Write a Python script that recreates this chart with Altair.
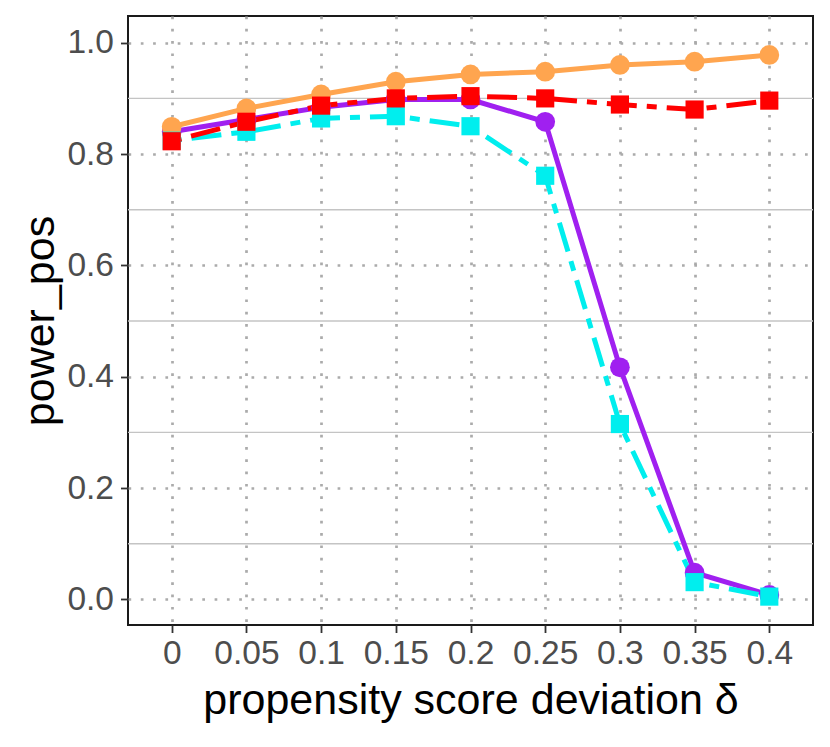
import altair as alt
import pandas as pd

x_labels = ["0", "0.05", "0.1", "0.15", "0.2", "0.25", "0.3", "0.35", "0.4"]
purple_vals = [0.840, 0.862, 0.884, 0.898, 0.898, 0.858, 0.417, 0.048, 0.008]
orange_vals = [0.849, 0.882, 0.907, 0.930, 0.943, 0.948, 0.960, 0.966, 0.978]
cyan_vals = [0.824, 0.840, 0.864, 0.868, 0.850, 0.761, 0.315, 0.031, 0.005]
red_vals = [0.823, 0.858, 0.887, 0.900, 0.904, 0.900, 0.889, 0.880, 0.896]
major_ticks = [0.0, 0.2, 0.4, 0.6, 0.8, 1.0]
minor_ticks = [0.1, 0.3, 0.5, 0.7, 0.9]

series = [
    ("purple", purple_vals, "#A020F0", "circle", None),
    ("orange", orange_vals, "#FFA54F", "circle", None),
    ("cyan", cyan_vals, "#00EEEE", "square", [10, 10, 30, 10]),
    ("red", red_vals, "#FF0000", "square", [10, 10, 30, 10]),
]

rows = []
for name, vals, _, _, _ in series:
    for d, v in zip(x_labels, vals):
        rows.append({"delta": d, "value": v, "series": name})
df = pd.DataFrame(rows)
minor_df = pd.DataFrame({"y": minor_ticks})

FONT = "Liberation Sans"
YDOM = [-0.046, 1.048]

x_enc = alt.X(
    "delta:O",
    sort=x_labels,
    scale=alt.Scale(type="point", padding=0.585),
    axis=alt.Axis(
        title="propensity score deviation δ",
        labelAngle=0,
        grid=True,
        gridDash=[2.7, 9.6],
        gridColor="#ABABAB",
        gridWidth=2.7,
        domain=False,
        tickColor="#333333",
        tickSize=7.5,
        tickWidth=1.8,
        labelFontSize=33.5,
        labelColor="#4D4D4D",
        labelFont=FONT,
        labelPadding=5,
        titleFont=FONT,
        titleFontSize=43,
        titleFontWeight="normal",
        titleColor="black",
        titleBaseline="alphabetic",
        titleY=88,
    ),
)
y_enc = alt.Y(
    "value:Q",
    scale=alt.Scale(domain=YDOM, nice=False, zero=False),
    axis=alt.Axis(
        title="power_pos",
        values=major_ticks,
        format=".1f",
        grid=True,
        gridDash=[2.7, 9.6],
        gridColor="#ABABAB",
        gridWidth=2.7,
        domain=False,
        tickColor="#333333",
        tickSize=7.5,
        tickWidth=1.8,
        labelFontSize=33.5,
        labelColor="#4D4D4D",
        labelFont=FONT,
        labelPadding=7,
        titleFont=FONT,
        titleFontSize=43,
        titleFontWeight="normal",
        titleColor="black",
        titleBaseline="alphabetic",
        titleX=-75,
    ),
)

base = alt.Chart(df)
layers = [
    alt.Chart(minor_df).mark_rule(color="#C4C4C4", strokeWidth=1.4).encode(
        y=alt.Y("y:Q", scale=alt.Scale(domain=YDOM, nice=False, zero=False))
    )
]
for name, _, color, shape, dash in series:
    kw = dict(color=color, strokeWidth=5)
    if dash:
        kw["strokeDash"] = dash
    layers.append(
        base.transform_filter(alt.datum.series == name).mark_line(**kw).encode(x=x_enc, y=y_enc)
    )
for name, _, color, shape, dash in series:
    size = 330 if shape == "square" else 390
    layers.append(
        base.transform_filter(alt.datum.series == name)
        .mark_point(shape=shape, filled=True, size=size, color=color, opacity=1)
        .encode(x=x_enc, y=y_enc)
    )

chart = (
    alt.layer(*layers)
    .properties(
        width=685,
        height=609,
        background="white",
        autosize=alt.AutoSizeParams(type="none"),
        padding={"left": 120, "top": 8, "right": 9, "bottom": 114},
    )
    .configure_view(stroke="#1A1A1A", strokeWidth=2)
)

chart.save("out.html", embed_options={"renderer": "svg", "actions": False})
